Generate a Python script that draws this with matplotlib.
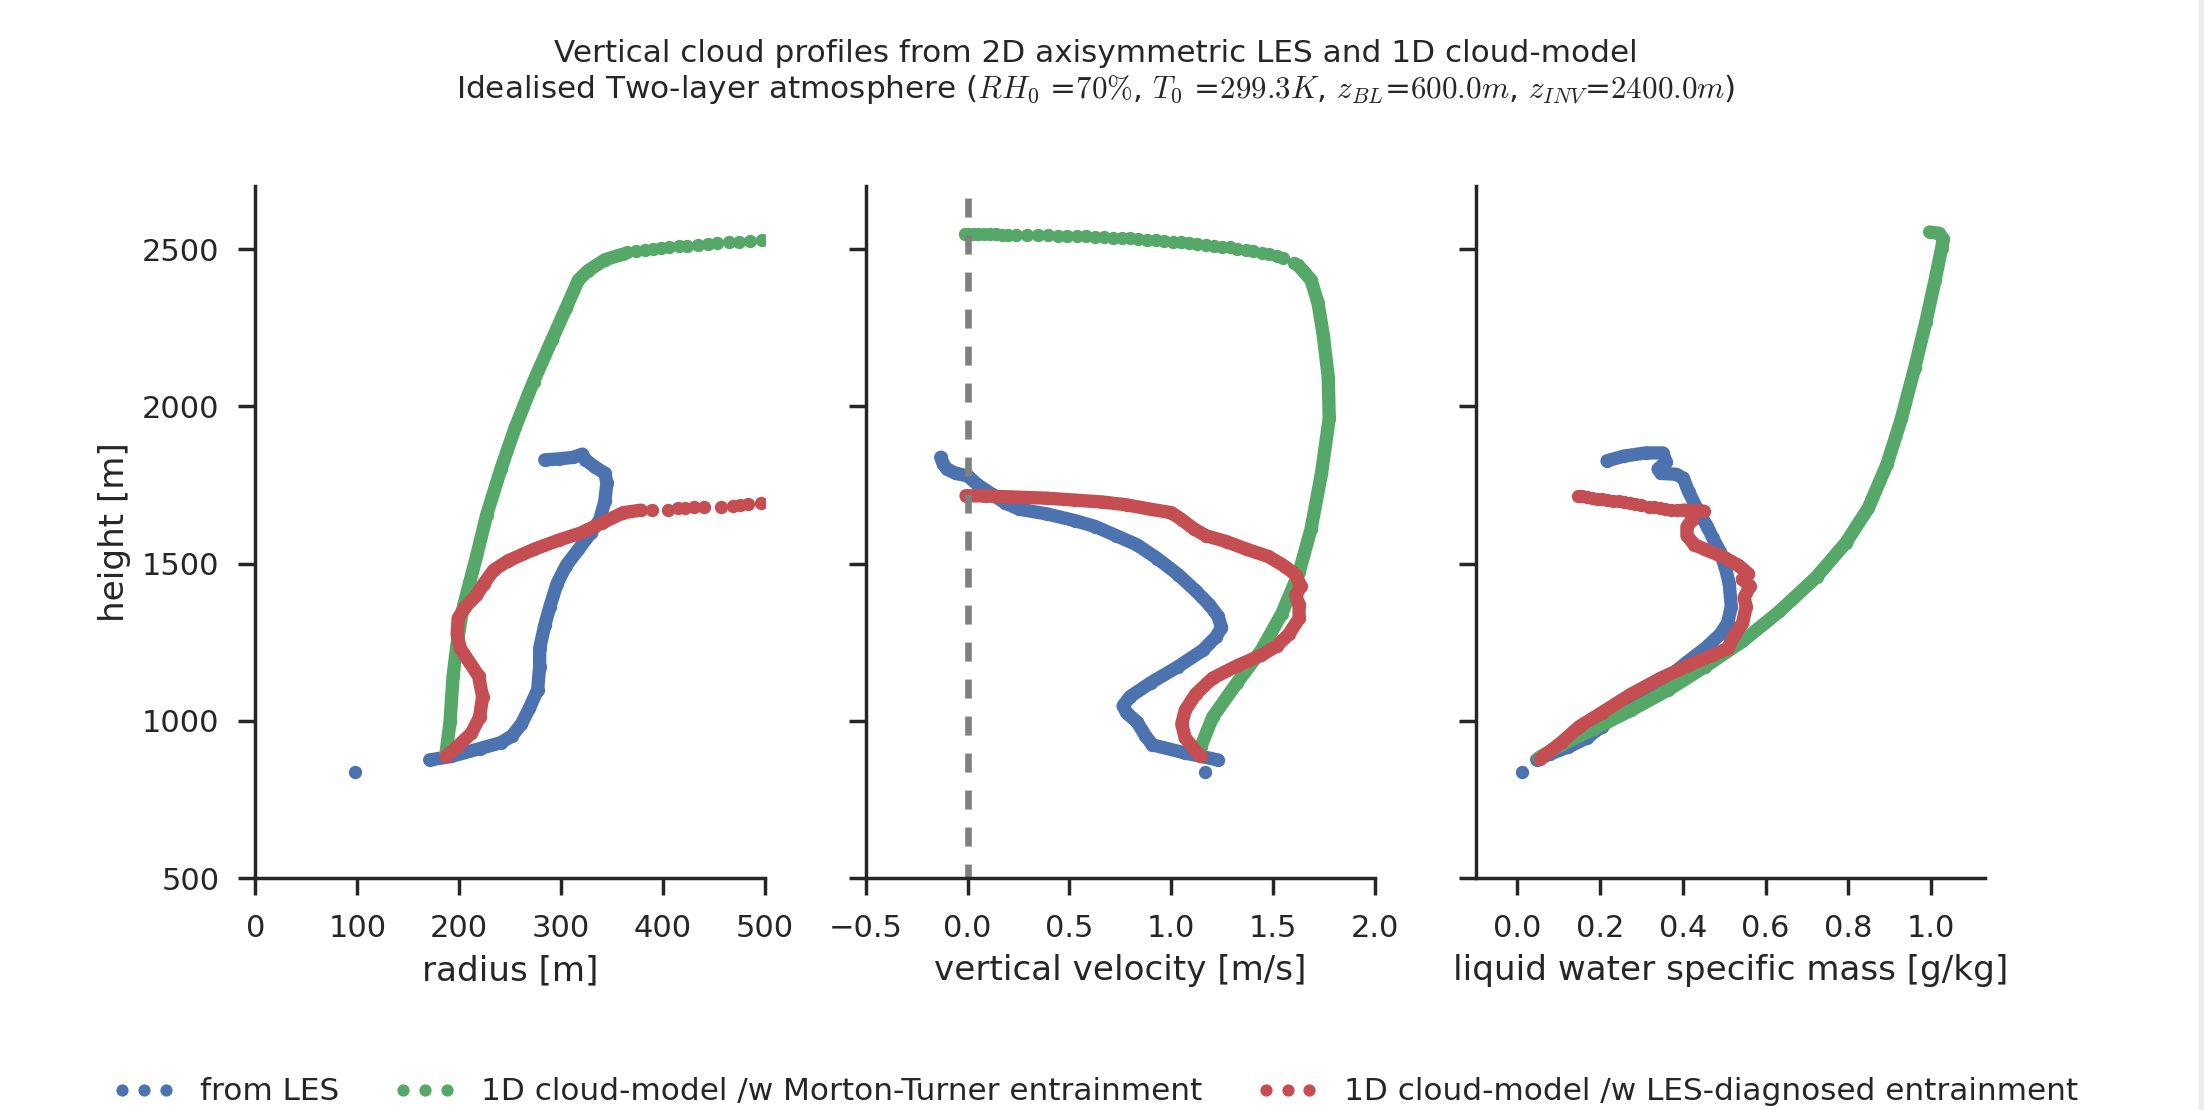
import matplotlib
matplotlib.use('Agg')
import matplotlib.pyplot as plt
from matplotlib.lines import Line2D
from matplotlib.patches import Rectangle

plt.rcParams['font.family'] = ['DejaVu Sans']
plt.rcParams['mathtext.fontset'] = 'cm'
plt.rcParams['text.color'] = '.15'
plt.rcParams['axes.labelcolor'] = '.15'

blue, green, red = '#4C72B0', '#55A868', '#C44E52'

# ---- radius panel [m] ----
les_r_first = [98]
les_r_first_z = [839]
les_r = [171, 192, 220, 241, 252, 261, 269, 277, 279, 279, 284, 289, 296, 305, 317, 329,
         338, 343, 345, 343, 333, 324, 321, 312, 298, 284]
les_r_z = [876, 887, 912, 931, 953, 990, 1041, 1099, 1173, 1231, 1304, 1363, 1436, 1494, 1545,
           1597, 1640, 1699, 1757, 1787, 1808, 1830, 1848, 1838, 1833, 1830]

mt_r = [187, 191, 194, 198, 203, 210, 217, 227, 241, 255, 273, 291, 305, 317, 326, 343, 361]
mt_r_z = [895, 997, 1143, 1246, 1348, 1436, 1523, 1655, 1801, 1933, 2079, 2211, 2313, 2401,
          2430, 2466, 2484]
mt_r_top = [365, 374, 382, 390, 398, 406, 416, 424, 434, 444, 453, 465, 475, 485, 497]
mt_r_top_z = [2491, 2494, 2497, 2500, 2503, 2506, 2509, 2511, 2514, 2517, 2519, 2522, 2524,
              2526, 2528]

diag_r = [187, 199, 212, 220, 223, 219, 210, 201, 198, 199, 206, 217, 224, 234, 248, 273, 298,
          319, 340, 361, 378]
diag_r_z = [887, 921, 961, 1012, 1077, 1143, 1187, 1231, 1275, 1326, 1363, 1399, 1436, 1480,
            1509, 1545, 1575, 1597, 1629, 1662, 1670]
diag_r_top = [389, 405, 415, 422, 431, 440, 457, 469, 476, 484, 496]
diag_r_top_z = [1670, 1670, 1676, 1677, 1680, 1681, 1681, 1684, 1687, 1689, 1692]

# ---- vertical velocity panel [m/s] ----
les_w_first = [1.166]
les_w_first_z = [839]
les_w = [1.229, 1.068, 0.907, 0.873, 0.831, 0.780, 0.763, 0.797, 0.898, 1.034, 1.153, 1.220,
         1.246, 1.229, 1.186, 1.119, 1.034, 0.932, 0.831, 0.729, 0.627, 0.525, 0.390, 0.254,
         0.186, 0.119, 0.051, 0.0, -0.059, -0.102, -0.119, -0.132]
les_w_z = [876, 898, 924, 953, 997, 1026, 1048, 1077, 1121, 1173, 1224, 1268, 1297, 1333, 1370,
           1414, 1465, 1516, 1560, 1589, 1618, 1637, 1658, 1673, 1692, 1721, 1750, 1779, 1787,
           1801, 1816, 1838]

mt_w = [1.144, 1.203, 1.322, 1.441, 1.542, 1.627, 1.686, 1.737, 1.775, 1.770, 1.746, 1.720,
        1.686, 1.653, 1.620]
mt_w_z = [917, 1012, 1121, 1224, 1341, 1472, 1611, 1787, 1962, 2094, 2225, 2328, 2401, 2427,
          2449]
mt_w_top = [1.600, 1.550, 1.517, 1.481, 1.443, 1.402, 1.366, 1.324, 1.288, 1.247, 1.209, 1.170,
            1.127, 1.088, 1.046, 1.006, 0.964, 0.924, 0.882, 0.837, 0.797, 0.756, 0.715, 0.669,
            0.625, 0.581, 0.535, 0.489, 0.445, 0.396, 0.346, 0.292, 0.240, 0.200, 0.170, 0.140,
            0.110, 0.080, 0.050, 0.025, 0.0, -0.015]
mt_w_top_z = [2455, 2471, 2478, 2484, 2489, 2493, 2497, 2501, 2505, 2508, 2511, 2514, 2517,
              2520, 2522, 2524, 2527, 2529, 2530, 2532, 2534, 2535, 2536, 2538, 2539, 2540,
              2541, 2542, 2543, 2544, 2545, 2545, 2546, 2546, 2546, 2547, 2547, 2547, 2547,
              2547, 2547, 2547]

diag_w = [1.144, 1.110, 1.068, 1.051, 1.068, 1.119, 1.203, 1.322, 1.441, 1.517, 1.576, 1.627,
          1.627, 1.610, 1.636, 1.610, 1.551, 1.475, 1.373, 1.271, 1.169, 1.110, 1.051, 1.0,
          0.898, 0.780, 0.661, 0.525, 0.390, 0.220, 0.085, -0.008]
diag_w_z = [887, 912, 946, 990, 1034, 1085, 1136, 1175, 1209, 1238, 1275, 1326, 1370, 1399,
            1428, 1465, 1494, 1523, 1545, 1570, 1589, 1611, 1640, 1662, 1673, 1687, 1696, 1702,
            1708, 1712, 1715, 1716]

# ---- liquid water panel [g/kg] ----
les_q_first = [0.012]
les_q_first_z = [839]
les_q = [0.047, 0.079, 0.123, 0.168, 0.204, 0.275, 0.356, 0.410, 0.454, 0.490, 0.508, 0.517,
         0.512, 0.504, 0.490, 0.472, 0.459, 0.436, 0.414, 0.401, 0.383, 0.347, 0.340, 0.360,
         0.351, 0.311, 0.258, 0.217]
les_q_z = [877, 895, 917, 946, 982, 1056, 1129, 1187, 1231, 1275, 1311, 1363, 1436, 1480, 1538,
           1582, 1618, 1670, 1728, 1772, 1784, 1787, 1801, 1823, 1852, 1852, 1842, 1827]

mt_q = [0.052, 0.106, 0.186, 0.275, 0.365, 0.454, 0.544, 0.633, 0.723, 0.794, 0.848, 0.893,
        0.928, 0.960, 0.987, 1.009, 1.025, 1.029, 1.018, 0.996]
mt_q_z = [883, 924, 975, 1034, 1099, 1173, 1253, 1348, 1458, 1567, 1677, 1816, 1962, 2123,
          2269, 2401, 2503, 2532, 2550, 2554]

diag_q = [0.056, 0.106, 0.150, 0.204, 0.275, 0.347, 0.419, 0.472, 0.508, 0.526, 0.544, 0.553,
          0.548, 0.562, 0.544, 0.558, 0.535, 0.499, 0.454, 0.428, 0.410, 0.410, 0.423, 0.419,
          0.450, 0.401]
diag_q_z = [880, 931, 982, 1026, 1085, 1136, 1180, 1209, 1231, 1275, 1311, 1363, 1392, 1428,
            1450, 1468, 1494, 1520, 1545, 1560, 1589, 1618, 1640, 1662, 1667, 1670]
diag_q_top = [0.385, 0.372, 0.358, 0.345, 0.330, 0.318, 0.300, 0.285, 0.272, 0.258, 0.245,
              0.232, 0.218, 0.205, 0.192, 0.180, 0.168, 0.157, 0.146]
diag_q_top_z = [1670, 1671, 1674, 1677, 1680, 1681, 1686, 1689, 1692, 1695, 1699, 1700, 1702,
                1704, 1706, 1709, 1711, 1714, 1716]

lw = 4.8
ms = 4.8

fig = plt.figure(figsize=(11.02, 5.55), dpi=200)
fig.add_artist(Rectangle((0.9977, 0), 0.0023, 1, transform=fig.transFigure,
                         color='#ececec', lw=0))

bottom, height, width = 0.2088, 0.6235, 0.2311
ax1 = fig.add_axes([0.1159, bottom, width, height])
ax2 = fig.add_axes([0.3928, bottom, width, height])
ax3 = fig.add_axes([0.6696, bottom, width, height])


def profile(ax, x, z, c):
    ax.plot(x, z, '-o', color=c, lw=lw, ms=ms, mew=0, solid_capstyle='round',
            solid_joinstyle='round')


def dots(ax, x, z, c):
    ax.plot(x, z, 'o', color=c, ms=ms, mew=0)


# radius
dots(ax1, les_r_first, les_r_first_z, blue)
profile(ax1, les_r, les_r_z, blue)
profile(ax1, mt_r, mt_r_z, green)
dots(ax1, mt_r_top, mt_r_top_z, green)
profile(ax1, diag_r, diag_r_z, red)
dots(ax1, diag_r_top, diag_r_top_z, red)

# velocity
dots(ax2, les_w_first, les_w_first_z, blue)
profile(ax2, les_w, les_w_z, blue)
profile(ax2, mt_w, mt_w_z, green)
dots(ax2, mt_w_top, mt_w_top_z, green)
profile(ax2, diag_w, diag_w_z, red)
ax2.axvline(0, color='gray', lw=2.4, linestyle=(0.76, (2.85, 2.7)))

# liquid water
dots(ax3, les_q_first, les_q_first_z, blue)
profile(ax3, les_q, les_q_z, blue)
profile(ax3, mt_q, mt_q_z, green)
profile(ax3, diag_q, diag_q_z, red)
dots(ax3, diag_q_top, diag_q_top_z, red)

ax1.set_xlim(0, 500)
ax1.set_xticks([0, 100, 200, 300, 400, 500])
ax2.set_xlim(-0.5, 2.0)
ax2.set_xticks([-0.5, 0.0, 0.5, 1.0, 1.5, 2.0])
ax3.set_xlim(-0.1, 1.13)
ax3.set_xticks([0.0, 0.2, 0.4, 0.6, 0.8, 1.0])

ax1.set_xlabel('radius [m]', fontsize=12.3)
ax2.set_xlabel('vertical velocity [m/s]', fontsize=12.3)
ax3.set_xlabel('liquid water specific mass [g/kg]', fontsize=12.3)
ax1.set_ylabel('height [m]', fontsize=12.3)

for ax in (ax1, ax2, ax3):
    ax.set_ylim(500, 2700)
    ax.set_yticks([500, 1000, 1500, 2000, 2500])
    ax.spines['top'].set_visible(False)
    ax.spines['right'].set_visible(False)
    for s in ('left', 'bottom'):
        ax.spines[s].set_color('.15')
        ax.spines[s].set_linewidth(1.25)
    ax.tick_params(direction='out', length=6, width=1.25, color='.15', labelcolor='.15',
                   labelsize=11, pad=7)
ax2.set_yticklabels([])
ax3.set_yticklabels([])

fig.suptitle('Vertical cloud profiles from 2D axisymmetric LES and 1D cloud-model\n'
             r'Idealised Two-layer atmosphere ($RH_0$ =$70\%$, $T_0$ =$299.3K$, '
             r'$z_{BL}$=$600.0m$, $z_{INV}$=$2400.0m$)',
             fontsize=11.2, x=0.497, y=0.965, va='top', color='.15')

handles = [Line2D([], [], ls='none', marker='o', ms=4.4, mew=0, color=c)
           for c in (blue, green, red)]
labels = ['from LES', '1D cloud-model /w Morton-Turner entrainment',
          '1D cloud-model /w LES-diagnosed entrainment']
fig.legend(handles, labels, loc='lower center', ncol=3, frameon=False, numpoints=3,
           fontsize=11.2, columnspacing=1.75, bbox_to_anchor=(0.497, -0.022))

fig.savefig('out.png', dpi=200)
